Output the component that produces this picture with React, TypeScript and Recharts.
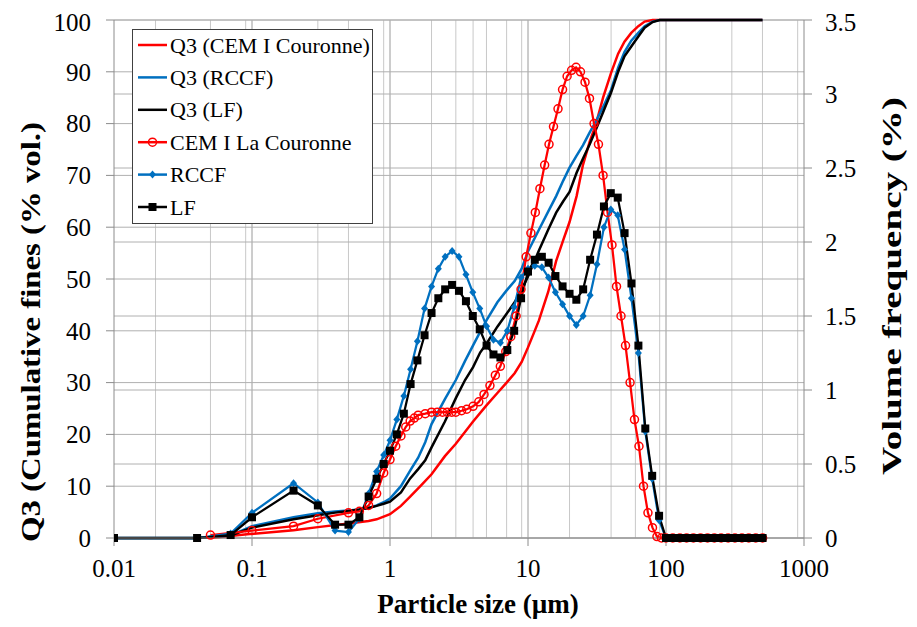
import { CartesianGrid, ComposedChart, Legend, Line, XAxis, YAxis } from 'recharts'

const RED = '#ff0000'
const BLUE = '#0070c0'
const BLACK = '#000000'
const FONT = '"Liberation Serif", "Times New Roman", serif'

const xTicks = [0.01, 0.1, 1, 10, 100, 1000]
const leftTicks = [0, 10, 20, 30, 40, 50, 60, 70, 80, 90, 100]
const rightTicks = [0, 0.5, 1, 1.5, 2, 2.5, 3, 3.5]
const minorX = [
  0.02, 0.03, 0.04, 0.05, 0.06, 0.07, 0.08, 0.09,
  0.2, 0.3, 0.4, 0.5, 0.6, 0.7, 0.8, 0.9,
  2, 3, 4, 5, 6, 7, 8, 9,
  20, 30, 40, 50, 60, 70, 80, 90,
  200, 300, 400, 500, 600, 700, 800, 900,
]

// cumulative curves (left axis, % vol.)
const q3CemSize = [0.05, 0.1, 0.2, 0.3, 0.5, 0.7, 0.8, 1, 1.2, 1.4, 1.7, 2, 2.5, 3, 4, 5, 6, 7, 8, 9, 10, 11, 12, 14, 16, 18, 20, 22.5, 25, 28, 31, 35, 40, 45, 50, 56, 63, 70, 80, 90, 100, 500]
const q3CemValue = [0, 0.8, 1.5, 2.1, 2.8, 3.3, 3.6, 4.6, 6.2, 8, 10.3, 12.3, 15.8, 18.2, 22.5, 25.6, 28, 30, 31.8, 34, 36.8, 39.5, 42, 47.5, 53.5, 57.5, 61, 66, 72, 76.5, 79.8, 85, 89.8, 93.5, 95.8, 97.5, 98.8, 99.7, 100, 100, 100, 100]

const q3Size = [0.01, 0.04, 0.07, 0.1, 0.2, 0.3, 0.4, 0.5, 0.6, 0.7, 0.8, 0.9, 1, 1.2, 1.4, 1.6, 1.8, 2, 2.5, 3, 3.5, 4, 4.5, 5, 6, 7, 8, 9, 10, 12, 14, 16, 18, 20, 22.5, 25, 28, 31, 35, 40, 45, 50, 56, 63, 70, 80, 90, 100, 500]
const q3RccfValue = [0, 0, 0.5, 2.3, 4, 4.8, 5.1, 5.3, 5.5, 5.8, 6.3, 6.9, 7.6, 10, 13, 15.5, 18.5, 22, 26.8, 30.5, 34.2, 37.2, 39.8, 42, 45.5, 47.8, 49.6, 52, 55.3, 59.5, 63, 66, 69, 71.5, 73.8, 75.8, 78.3, 80.4, 83.2, 86.5, 90.8, 93.8, 96, 97.5, 98.8, 99.7, 100, 100, 100]
const q3LfValue = [0, 0, 0.5, 2, 3.6, 4.4, 4.9, 5.2, 5.5, 5.8, 6.2, 6.6, 7, 8.8, 11.5, 13.3, 15, 17.5, 22.5, 27, 30.5, 33, 35.8, 37.5, 40.8, 43.3, 45.5, 48, 50.5, 55.5, 59.5, 62.8, 65, 66.8, 70.5, 73.2, 76, 78.8, 82.2, 86, 90, 93, 94.9, 96.8, 98.5, 99.6, 100, 100, 100]

// volume frequency (right axis, %)
const cemSize = [0.05, 0.1, 0.2, 0.3, 0.5, 0.6, 0.7, 0.8, 0.9, 1, 1.1, 1.2, 1.3, 1.4, 1.5, 1.6, 1.8, 2, 2.2, 2.4, 2.6, 2.8, 3, 3.3, 3.6, 4, 4.4, 4.8, 5.3, 5.8, 6.3, 6.9, 7.5, 8.2, 8.9, 9.7, 10.5, 11.3, 12.2, 13.2, 14.2, 15.3, 16.5, 17.8, 19.2, 20.7, 22.3, 24, 25.9, 27.9, 30.1, 32.4, 35, 37.7, 40.6, 43.8, 47.2, 50.9, 54.9, 59.1, 63.7, 68.7, 74, 79.8, 86, 92.7, 100, 112, 126, 141, 158, 178, 200, 224, 251, 282, 316, 355, 398, 447, 501]
const cemValue = [0.02, 0.05, 0.08, 0.13, 0.17, 0.18, 0.22, 0.3, 0.44, 0.53, 0.62, 0.69, 0.75, 0.79, 0.81, 0.83, 0.84, 0.85, 0.85, 0.85, 0.85, 0.85, 0.85, 0.86, 0.87, 0.89, 0.92, 0.97, 1.03, 1.1, 1.16, 1.26, 1.36, 1.5, 1.68, 1.9, 2.06, 2.2, 2.36, 2.52, 2.66, 2.78, 2.9, 3.03, 3.12, 3.16, 3.18, 3.15, 3.08, 2.97, 2.8, 2.66, 2.45, 2.2, 1.98, 1.7, 1.5, 1.3, 1.05, 0.8, 0.62, 0.35, 0.17, 0.07, 0.01, 0, 0, 0, 0, 0, 0, 0, 0, 0, 0, 0, 0, 0, 0, 0, 0]

const freqSize = [0.01, 0.04, 0.07, 0.1, 0.2, 0.3, 0.4, 0.5, 0.6, 0.7, 0.8, 0.9, 1, 1.12, 1.26, 1.41, 1.58, 1.78, 2, 2.24, 2.51, 2.82, 3.16, 3.55, 3.98, 4.47, 5.01, 5.62, 6.31, 7.08, 7.94, 8.91, 10, 11.2, 12.6, 14.1, 15.8, 17.8, 20, 22.4, 25.1, 28.2, 31.6, 35.5, 39.8, 44.7, 50.1, 56.2, 63.1, 70.8, 79.4, 89.1, 100, 112, 126, 141, 158, 178, 200, 224, 251, 282, 316, 355, 398, 447, 501]
const rccfValue = [0, 0, 0.03, 0.17, 0.37, 0.24, 0.05, 0.04, 0.13, 0.3, 0.45, 0.56, 0.66, 0.8, 0.96, 1.14, 1.33, 1.55, 1.7, 1.82, 1.9, 1.94, 1.9, 1.78, 1.66, 1.55, 1.43, 1.34, 1.32, 1.4, 1.56, 1.76, 1.82, 1.84, 1.83, 1.76, 1.66, 1.58, 1.5, 1.44, 1.5, 1.64, 1.85, 2.1, 2.22, 2.18, 1.95, 1.62, 1.25, 0.72, 0.4, 0.12, 0, 0, 0, 0, 0, 0, 0, 0, 0, 0, 0, 0, 0, 0, 0]
const lfValue = [0, 0, 0.02, 0.14, 0.32, 0.22, 0.09, 0.09, 0.14, 0.28, 0.4, 0.5, 0.59, 0.7, 0.84, 1.04, 1.2, 1.37, 1.52, 1.62, 1.68, 1.71, 1.67, 1.6, 1.5, 1.41, 1.3, 1.24, 1.22, 1.27, 1.4, 1.62, 1.8, 1.88, 1.9, 1.86, 1.77, 1.7, 1.65, 1.61, 1.68, 1.88, 2.05, 2.24, 2.33, 2.3, 2.06, 1.72, 1.3, 0.74, 0.42, 0.15, 0, 0, 0, 0, 0, 0, 0, 0, 0, 0, 0, 0, 0, 0, 0]

const zip = (xs: number[], ys: number[]) => xs.map((x, i) => ({ x, y: ys[i] }))

const q3CemData = zip(q3CemSize, q3CemValue)
const q3RccfData = zip(q3Size, q3RccfValue)
const q3LfData = zip(q3Size, q3LfValue)
const cemData = zip(cemSize, cemValue)
const rccfData = zip(freqSize, rccfValue)
const lfData = zip(freqSize, lfValue)

type Marker = 'none' | 'circle' | 'diamond' | 'square'

function drawMarker(kind: Marker, color: string, cx: number, cy: number, key?: number | string) {
  if (kind === 'circle')
    return <circle key={key} cx={cx} cy={cy} r={4} fill="none" stroke={color} strokeWidth={1.5} />
  if (kind === 'diamond')
    return (
      <polygon
        key={key}
        points={`${cx},${cy - 4} ${cx + 3.5},${cy} ${cx},${cy + 4} ${cx - 3.5},${cy}`}
        fill={color}
      />
    )
  if (kind === 'square')
    return <rect key={key} x={cx - 4} y={cy - 4} width={8} height={8} fill={color} />
  return null
}

const dotFor = (kind: Marker, color: string) => (p: any) => {
  if (p.cx == null || p.cy == null) return <g key={p.index} />
  return drawMarker(kind, color, p.cx, p.cy, p.index)
}

const legendItems: { name: string; color: string; marker: Marker }[] = [
  { name: 'Q3 (CEM I Couronne)', color: RED, marker: 'none' },
  { name: 'Q3 (RCCF)', color: BLUE, marker: 'none' },
  { name: 'Q3 (LF)', color: BLACK, marker: 'none' },
  { name: 'CEM I La Couronne', color: RED, marker: 'circle' },
  { name: 'RCCF', color: BLUE, marker: 'diamond' },
  { name: 'LF', color: BLACK, marker: 'square' },
]

function LegendBox() {
  return (
    <svg width={241} height={195} style={{ display: 'block' }}>
      <rect x={0.5} y={0.5} width={240} height={194} fill="#fff" stroke="#404040" />
      {legendItems.map((it, i) => {
        const cy = 16 + i * 32.4
        return (
          <g key={it.name}>
            <line x1={6} x2={35} y1={cy} y2={cy} stroke={it.color} strokeWidth={2.5} />
            {drawMarker(it.marker, it.color, 20.5, cy)}
            <text x={38} y={cy + 7.5} fontSize={22} fontFamily={FONT} fill="#000">
              {it.name}
            </text>
          </g>
        )
      })}
    </svg>
  )
}

const tickStyle = { fill: '#000', fontSize: 25, fontFamily: FONT }
const titleStyle = { fontSize: 27, fontWeight: 700, fontFamily: FONT, fill: '#000' }

export default function App() {
  return (
    <ComposedChart width={900} height={617} margin={{ top: 12, right: 34, bottom: 47, left: 36 }}>
      <CartesianGrid yAxisId="left" horizontal={false} verticalValues={minorX} stroke="#c8c8c8" />
      <CartesianGrid yAxisId="left" horizontal={false} verticalValues={[0.1, 1, 10, 100]} stroke="#9a9a9a" />
      <CartesianGrid yAxisId="left" vertical={false} horizontalValues={leftTicks} stroke="#b0b0b0" />
      <CartesianGrid yAxisId="right" vertical={false} horizontalValues={rightTicks} stroke="#b0b0b0" />
      <XAxis
        dataKey="x"
        type="number"
        scale="log"
        domain={[0.01, 1000]}
        ticks={xTicks}
        allowDataOverflow
        height={40}
        tick={tickStyle}
        tickSize={8}
        tickMargin={13}
        stroke="#8c8c8c"
        label={{
          content: () => (
            <text x={470} y={605} textAnchor="middle" style={titleStyle}>
              Particle size (µm)
            </text>
          ),
        }}
      />
      <YAxis
        yAxisId="left"
        domain={[0, 100]}
        ticks={leftTicks}
        width={70}
        tick={tickStyle}
        tickSize={8}
        tickMargin={15}
        stroke="#8c8c8c"
        label={{
          content: () => (
            <text
              x={32}
              y={324}
              transform="rotate(-90 32 324)"
              textAnchor="middle"
              textLength={420}
              lengthAdjust="spacingAndGlyphs"
              style={titleStyle}
            >
              Q3 (Cumulative fines (% vol.)
            </text>
          ),
        }}
      />
      <YAxis
        yAxisId="right"
        orientation="right"
        domain={[0, 3.5]}
        ticks={rightTicks}
        width={70}
        tick={tickStyle}
        tickSize={8}
        tickMargin={13}
        stroke="#8c8c8c"
        label={{
          content: () => (
            <text
              x={893}
              y={278}
              transform="rotate(-90 893 278)"
              textAnchor="middle"
              textLength={378}
              lengthAdjust="spacingAndGlyphs"
              style={titleStyle}
            >
              Volume frequency (%)
            </text>
          ),
        }}
      />
      <Line yAxisId="left" data={q3CemData} dataKey="y" name="Q3 (CEM I Couronne)" stroke={RED} strokeWidth={2.5} dot={false} isAnimationActive={false} />
      <Line yAxisId="left" data={q3RccfData} dataKey="y" name="Q3 (RCCF)" stroke={BLUE} strokeWidth={2.5} dot={false} isAnimationActive={false} />
      <Line yAxisId="left" data={q3LfData} dataKey="y" name="Q3 (LF)" stroke={BLACK} strokeWidth={2.5} dot={false} isAnimationActive={false} />
      <Line yAxisId="right" data={cemData} dataKey="y" name="CEM I La Couronne" stroke={RED} strokeWidth={2.25} dot={dotFor('circle', RED)} isAnimationActive={false} />
      <Line yAxisId="right" data={rccfData} dataKey="y" name="RCCF" stroke={BLUE} strokeWidth={2.25} dot={dotFor('diamond', BLUE)} isAnimationActive={false} />
      <Line yAxisId="right" data={lfData} dataKey="y" name="LF" stroke={BLACK} strokeWidth={2.25} dot={dotFor('square', BLACK)} isAnimationActive={false} />
      <Legend
        layout="vertical"
        align="center"
        verticalAlign="middle"
        wrapperStyle={{ left: 124, top: 21, width: 241, height: 195 }}
        content={() => <LegendBox />}
      />
    </ComposedChart>
  )
}
